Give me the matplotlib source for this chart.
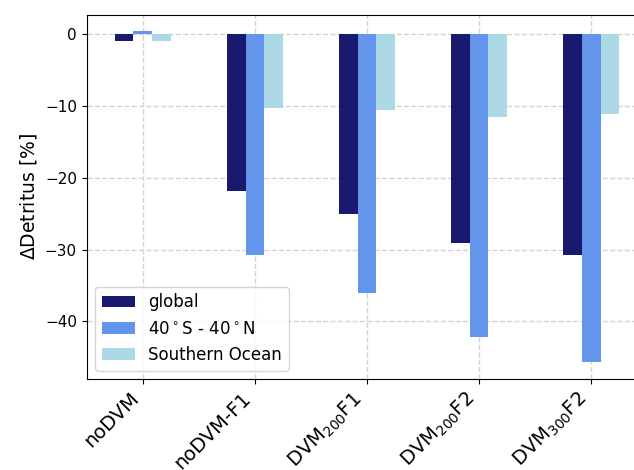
import matplotlib
matplotlib.use("Agg")
import matplotlib.pyplot as plt
import numpy as np

# DATA
experiments = ["noDVM", "noDVM-F1", r"DVM$_{200}$F1", r"DVM$_{200}$F2", r"DVM$_{300}$F2"]
glob = [-0.9, -21.9, -25.0, -29.1, -30.8]
tropics = [0.4, -30.8, -36.0, -42.2, -45.7]
southern = [-0.9, -10.3, -10.6, -11.5, -11.1]

series = [("global", glob, "midnightblue"),
          (r"40$^\circ$S - 40$^\circ$N", tropics, "cornflowerblue"),
          ("Southern Ocean", southern, "lightblue")]

fig = plt.figure(figsize=(6.34, 4.70), dpi=100)
ax = fig.add_axes([86.7 / 634, (470 - 379) / 470, 560.6 / 634, (379 - 14.7) / 470])

x = np.arange(len(experiments))
w = 0.5 / 3
for i, (lab, vals, col) in enumerate(series):
    ax.bar(x + (i - 1) * w, vals, width=w, color=col, label=lab, zorder=2)

ax.set_xlim(-0.5, len(experiments) - 0.5)
ax.set_xticks(x)
ax.set_xticklabels(experiments, rotation=45, ha="right", fontsize=14)
ax.tick_params(axis="y", labelsize=11)
ax.set_ylabel(r"$\Delta$Detritus [%]", fontsize=13.5)
ax.grid(True, linestyle="--", color="lightgray", linewidth=1, zorder=0)
ax.set_axisbelow(True)
ax.legend(loc="lower left", fontsize=12)

fig.savefig("out.png", dpi=100)
